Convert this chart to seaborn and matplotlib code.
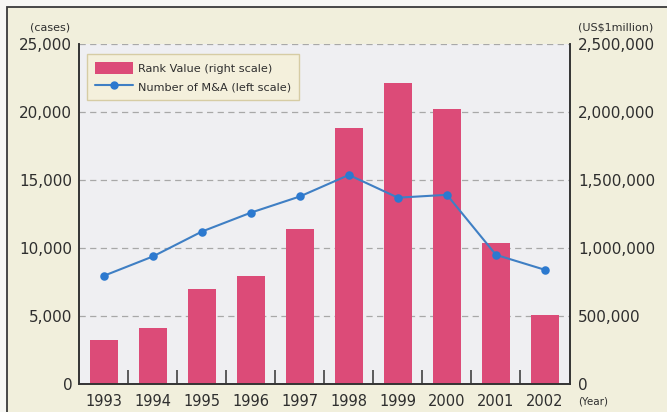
import matplotlib
matplotlib.use("Agg")
import matplotlib.pyplot as plt
from matplotlib.patches import Patch, Rectangle
from matplotlib.lines import Line2D
from matplotlib.ticker import FuncFormatter, FixedLocator
import seaborn as sns
import pandas as pd

# Data
years = ["1993", "1994", "1995", "1996", "1997", "1998", "1999", "2000", "2001", "2002"]
rank_value = [322000, 416000, 702000, 795000, 1144000, 1882000, 2211000, 2024000, 1039000, 507000]  # US$1 million
num_ma = [7970, 9390, 11220, 12610, 13800, 15380, 13710, 13920, 9510, 8410]  # cases

df = pd.DataFrame({"year": years, "value": rank_value, "cases": num_ma})

BAR = "#dc4b78"
LINE = "#3f7fc4"
DOT = "#2c79cf"
PLOT_BG = "#efeff2"
PANEL_BG = "#f1efdc"
TXT = "#2e2e2e"

sns.set_theme(style="white")
plt.rcParams["font.family"] = ["DejaVu Sans"]

fig = plt.figure(figsize=(6.67, 4.12), dpi=100)
fig.patch.set_facecolor("#f7f7f4")

# framed panel behind everything
fig.patches.append(Rectangle((7 / 667, -0.05), 1.0, 1 - 7 / 412 + 0.05,
                             transform=fig.transFigure, facecolor=PANEL_BG,
                             edgecolor="#3a3a3a", linewidth=1.3, zorder=-10))

ax = fig.add_axes([79.3 / 667, 1 - 384.3 / 412, (569.5 - 79.3) / 667, (384.3 - 44) / 412])
ax.set_facecolor(PLOT_BG)

# Bars on the right scale
sns.barplot(data=df, x="year", y="value", color=BAR, width=0.56, saturation=1,
            edgecolor="none", linewidth=0, ax=ax, zorder=2)
ax.set_ylim(0, 2500000)
ax.set_xlim(-0.5, 9.5)
ax.grid(axis="y", color="#a8a8a8", linestyle=(0, (5, 3.5)), linewidth=0.9)
ax.set_axisbelow(True)
ax.set_xlabel("")
ax.set_ylabel("")

# Line on the left scale
ax2 = ax.twinx()
sns.pointplot(data=df, x="year", y="cases", color=LINE, markers="o",
              markersize=5, linewidth=1.5, ax=ax2)
for ln in ax2.lines:
    ln.set_markerfacecolor(DOT)
    ln.set_markeredgecolor(DOT)
ax2.set_ylim(0, 25000)
ax2.set_xlim(-0.5, 9.5)
ax2.set_xlabel("")
ax2.set_ylabel("")
ax2.patch.set_visible(False)

# swap sides: cases on the left, value on the right
ax.yaxis.tick_right()
ax.yaxis.set_label_position("right")
ax2.yaxis.tick_left()
ax2.yaxis.set_label_position("left")
ax.yaxis.set_major_locator(FixedLocator([0, 500000, 1000000, 1500000, 2000000, 2500000]))
ax.yaxis.set_major_formatter(FuncFormatter(lambda v, p: f"{int(v):,}"))
ax2.yaxis.set_major_locator(FixedLocator([0, 5000, 10000, 15000, 20000, 25000]))
ax2.yaxis.set_major_formatter(FuncFormatter(lambda v, p: f"{int(v):,}"))

for a in (ax, ax2):
    for side in ("left", "right", "bottom"):
        a.spines[side].set_visible(True)
        a.spines[side].set_color("#333333")
        a.spines[side].set_linewidth(1.2)
    a.spines["top"].set_visible(False)

ax.tick_params(axis="y", which="both", length=0, pad=6, labelsize=11, labelcolor=TXT,
               left=False, labelleft=False, right=True, labelright=True)
ax2.tick_params(axis="y", which="both", length=0, pad=5, labelsize=11, labelcolor=TXT,
                right=False, labelright=False, left=True, labelleft=True)
ax.tick_params(axis="x", which="major", length=0, pad=7, labelsize=10.5, labelcolor=TXT)
ax2.tick_params(axis="x", which="both", length=0, labelbottom=False)
ax.set_xticks([i + 0.5 for i in range(9)], minor=True)
ax.tick_params(axis="x", which="minor", bottom=True, direction="in", length=10,
               width=1.1, color="#333333")

# unit captions
fig.text(70 / 667, 1 - 28 / 412, "(cases)", ha="right", va="center", fontsize=8, color=TXT)
fig.text(578 / 667, 1 - 28 / 412, "(US$1million)", ha="left", va="center", fontsize=8, color=TXT)
fig.text(578 / 667, 1 - 401 / 412, "(Year)", ha="left", va="center", fontsize=7.5, color=TXT)

handles = [Patch(facecolor=BAR, edgecolor="none"),
           Line2D([0], [0], color=LINE, lw=1.5, marker="o", markersize=5,
                  markerfacecolor=DOT, markeredgecolor=DOT)]
labels = ["Rank Value (right scale)", "Number of M&A (left scale)"]
leg = ax2.legend(handles, labels, loc="upper left", bbox_to_anchor=(0.0157, 0.9706),
                 borderaxespad=0, fontsize=8.1, frameon=True, fancybox=False,
                 handlelength=3.4, handleheight=1.3, handletextpad=0.45,
                 labelspacing=0.55, borderpad=0.7)
leg.get_frame().set_facecolor("#f4f0dc")
leg.get_frame().set_edgecolor("#d6cca4")
leg.get_frame().set_linewidth(1.0)
leg.get_frame().set_alpha(1)
for t in leg.get_texts():
    t.set_color(TXT)

fig.savefig("out.png", dpi=100, facecolor=fig.get_facecolor())
